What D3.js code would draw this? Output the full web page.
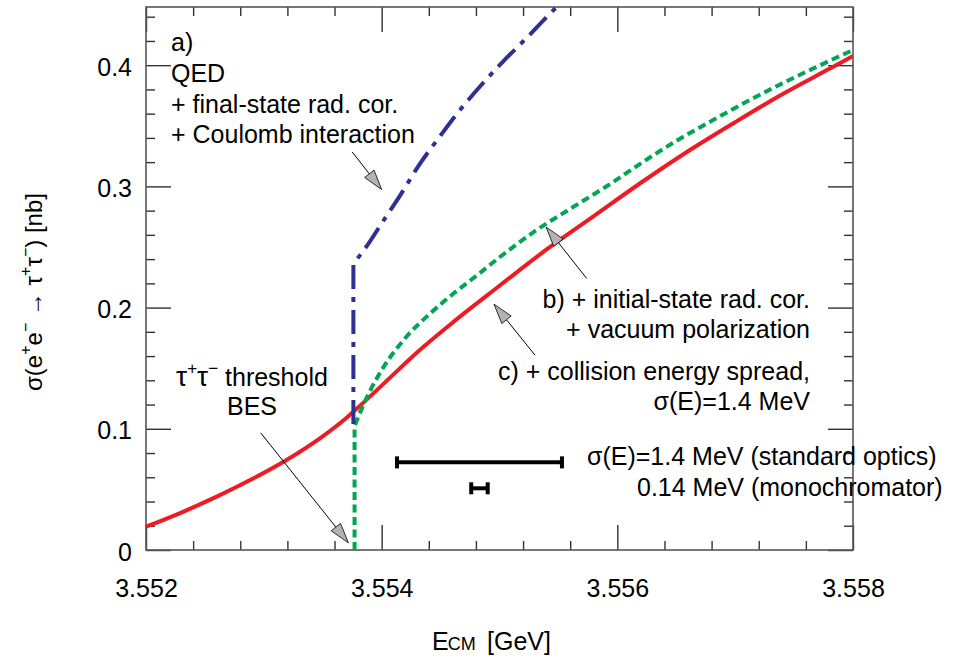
<!DOCTYPE html>
<html>
<head>
<meta charset="utf-8">
<script src="https://cdn.jsdelivr.net/npm/d3@7"></script>
<style>
  html, body { margin: 0; padding: 0; background: #fff; }
  svg { display: block; font-family: "Liberation Sans", Arial, Helvetica, sans-serif; }
</style>
</head>
<body>
<svg id="chart" width="953" height="659"></svg>
<script>
// ---------------- data ----------------
const xMajorTicks = [3.552, 3.554, 3.556, 3.558];
const xTickLabels = ["3.552", "3.554", "3.556", "3.558"];
const yMajorTicks = [0, 0.1, 0.2, 0.3, 0.4];
const yTickLabels = ["0", "0.1", "0.2", "0.3", "0.4"];

// a) QED + final-state rad. cor. + Coulomb interaction (blue dash-dot)
const blueE     = [3.55376, 3.55376, 3.55390, 3.55401, 3.55416, 3.55431, 3.55450, 3.55464, 3.55484, 3.55503, 3.55523, 3.55547, 3.55560];
const blueSigma = [0.104,   0.236,   0.2545,  0.271,   0.293,   0.3165,  0.342,   0.360,   0.383,   0.403,   0.4225,  0.4465,  0.458];

// b) + initial-state rad. cor. + vacuum polarization (green dashed)
const greenE     = [3.55377, 3.55377, 3.55379, 3.55387, 3.55390, 3.55401, 3.55421, 3.55441, 3.55461, 3.55481, 3.5550, 3.5553, 3.5556, 3.5559, 3.5562, 3.5565, 3.5568, 3.5571, 3.5574, 3.5577, 3.5580];
const greenSigma = [0,       0.102,   0.107,   0.125,   0.131,   0.150,   0.1759,  0.195,   0.2116,  0.2267,  0.2415, 0.2630, 0.2815, 0.2995, 0.3190, 0.3375, 0.3540, 0.3700, 0.3850, 0.3990, 0.4125];

// c) + collision energy spread, sigma(E)=1.4 MeV (red solid)
const redE     = [3.5520, 3.5523, 3.5526, 3.5529, 3.5532, 3.5535, 3.5537, 3.5538, 3.5540, 3.5543, 3.5546, 3.5550, 3.5554, 3.5558, 3.5562, 3.5566, 3.5570, 3.5574, 3.5578, 3.5580];
const redSigma = [0.0192, 0.0309, 0.0440, 0.0585, 0.0747, 0.0938, 0.1089, 0.1176, 0.1356, 0.1630, 0.1875, 0.2180, 0.2480, 0.2755, 0.3030, 0.3290, 0.3530, 0.3760, 0.3970, 0.4075];

// energy-spread bars
const spreadCenter = [3.55483, 3.55483];
const spreadHalf   = [0.0007, 0.00007];
const spreadLevel  = [0.0723, 0.0509];

// ---------------- layout ----------------
const svg = d3.select("#chart");
const L = 146, R = 853, T = 7, B = 550;
const FONT = 25;
const x = d3.scaleLinear().domain([3.552, 3.558]).range([L, R]);
const y = d3.scaleLinear().domain([0, 0.448]).range([B, T]);

const xMinor = d3.range(0, 16).map(i => 3.552 + i * 0.0004).filter(v => !xMajorTicks.some(m => Math.abs(m - v) < 1e-9));
const yMinor = d3.range(0, 23).map(i => i * 0.02).filter(v => v <= 0.448 && !yMajorTicks.some(m => Math.abs(m - v) < 1e-9));

const tickColor = "#333";
function styleAxis(g) {
  g.select(".domain").remove();
  g.selectAll(".tick line").attr("stroke", tickColor).attr("stroke-width", 1.4);
  g.selectAll("text").attr("font-size", FONT).attr("fill", "#000")
    .attr("font-family", '"Liberation Sans", Arial, Helvetica, sans-serif');
}

// left axis
svg.append("g").attr("transform", `translate(${L},0)`)
  .call(d3.axisLeft(y).tickValues(yMajorTicks).tickSizeInner(-25).tickSizeOuter(0).tickPadding(14)
    .tickFormat((d, i) => yTickLabels[i]))
  .call(styleAxis)
  .call(g => g.selectAll("text").attr("dy", "0.4em"));
svg.append("g").attr("transform", `translate(${L},0)`)
  .call(d3.axisLeft(y).tickValues(yMinor).tickSizeInner(-9).tickSizeOuter(0).tickFormat(""))
  .call(styleAxis);
// right axis
svg.append("g").attr("transform", `translate(${R},0)`)
  .call(d3.axisRight(y).tickValues(yMajorTicks).tickSizeInner(-25).tickSizeOuter(0).tickFormat(""))
  .call(styleAxis);
svg.append("g").attr("transform", `translate(${R},0)`)
  .call(d3.axisRight(y).tickValues(yMinor).tickSizeInner(-9).tickSizeOuter(0).tickFormat(""))
  .call(styleAxis);
// bottom axis
svg.append("g").attr("transform", `translate(0,${B})`)
  .call(d3.axisBottom(x).tickValues(xMajorTicks).tickSizeInner(-25).tickSizeOuter(0).tickPadding(29)
    .tickFormat((d, i) => xTickLabels[i]))
  .call(styleAxis);
svg.append("g").attr("transform", `translate(0,${B})`)
  .call(d3.axisBottom(x).tickValues(xMinor).tickSizeInner(-9).tickSizeOuter(0).tickFormat(""))
  .call(styleAxis);
// top axis
svg.append("g").attr("transform", `translate(0,${T})`)
  .call(d3.axisTop(x).tickValues(xMajorTicks).tickSizeInner(-25).tickSizeOuter(0).tickFormat(""))
  .call(styleAxis);
svg.append("g").attr("transform", `translate(0,${T})`)
  .call(d3.axisTop(x).tickValues(xMinor).tickSizeInner(-9).tickSizeOuter(0).tickFormat(""))
  .call(styleAxis);

// frame
svg.append("rect").attr("x", L).attr("y", T).attr("width", R - L).attr("height", B - T)
  .attr("fill", "none").attr("stroke", "#555").attr("stroke-width", 1.6);

// clip
svg.append("clipPath").attr("id", "plotclip").append("rect")
  .attr("x", L).attr("y", T).attr("width", R - L).attr("height", B - T);
const plot = svg.append("g").attr("clip-path", "url(#plotclip)");

// curves
const zip = (a, b) => a.map((v, i) => [v, b[i]]);
const lin = d3.line().x(d => x(d[0])).y(d => y(d[1]));
const mono = d3.line().x(d => x(d[0])).y(d => y(d[1])).curve(d3.curveMonotoneX);
function withVertical(pts) {
  const first = lin(pts.slice(0, 2));
  const rest = mono(pts.slice(1)).replace(/^M/, "L");
  return first + rest;
}

plot.append("path").attr("d", mono(zip(redE, redSigma)))
  .attr("fill", "none").attr("stroke", "#ed1c24").attr("stroke-width", 4);
plot.append("path").attr("d", withVertical(zip(greenE, greenSigma)))
  .attr("fill", "none").attr("stroke", "#00a651").attr("stroke-width", 4)
  .attr("stroke-dasharray", "8,4.5");
plot.append("path").attr("d", withVertical(zip(blueE, blueSigma)))
  .attr("fill", "none").attr("stroke", "#2e3192").attr("stroke-width", 4)
  .attr("stroke-dasharray", "24,8,5,8");

// spread bars
spreadCenter.forEach((c, i) => {
  const x0 = x(c - spreadHalf[i]), x1 = x(c + spreadHalf[i]), yy = y(spreadLevel[i]);
  const g = svg.append("g").attr("stroke", "#000").attr("stroke-width", 4);
  g.append("line").attr("x1", x0).attr("x2", x1).attr("y1", yy).attr("y2", yy);
  g.append("line").attr("x1", x0).attr("x2", x0).attr("y1", yy - 6).attr("y2", yy + 6);
  g.append("line").attr("x1", x1).attr("x2", x1).attr("y1", yy - 6).attr("y2", yy + 6);
});

// arrows (tail -> tip, data coords)
const arrows = [
  { tail: [3.553750, 0.3284], tip: [3.554000, 0.2974] },
  { tail: [3.552973, 0.0967], tip: [3.553717, 0.0060] },
  { tail: [3.555740, 0.2240], tip: [3.555395, 0.2665] },
  { tail: [3.555301, 0.1608], tip: [3.554953, 0.2028] }
];
arrows.forEach(a => {
  const tx = x(a.tail[0]), ty = y(a.tail[1]), px = x(a.tip[0]), py = y(a.tip[1]);
  const dx = px - tx, dy = py - ty, len = Math.hypot(dx, dy);
  const ux = dx / len, uy = dy / len, nx = -uy, ny = ux;
  const hl = 20, hw = 6;
  const bx = px - hl * ux, by = py - hl * uy;
  svg.append("line").attr("x1", tx).attr("y1", ty).attr("x2", bx).attr("y2", by)
    .attr("stroke", "#000").attr("stroke-width", 1);
  svg.append("polygon")
    .attr("points", [[px, py], [bx + hw * nx, by + hw * ny], [bx - hw * nx, by - hw * ny]].map(p => p.join(",")).join(" "))
    .attr("fill", "#b3b3b3").attr("stroke", "#000").attr("stroke-width", 0.8);
});

// texts
function txt(xp, yp, s, anchor) {
  return svg.append("text").attr("x", xp).attr("y", yp).attr("font-size", FONT)
    .attr("text-anchor", anchor || "start").attr("fill", "#000").text(s);
}
txt(171, 51, "a)");
txt(171, 81.5, "QED");
txt(171, 112.5, "+ final-state rad. cor.");
txt(171, 143, "+ Coulomb interaction");

txt(810, 308, "b) + initial-state rad. cor.", "end");
txt(810, 338, "+ vacuum polarization", "end");
txt(810, 380, "c) + collision energy spread,", "end");
txt(810, 410, "σ(E)=1.4 MeV", "end");

txt(587, 465, "σ(E)=1.4 MeV (standard optics)");
txt(637, 496, "0.14 MeV (monochromator)");

// tau threshold label
const th = svg.append("text").attr("x", 252).attr("y", 386).attr("font-size", FONT).attr("text-anchor", "middle");
th.append("tspan").attr("font-size", 28).text("τ");
th.append("tspan").attr("font-size", 17).attr("dx", 0).attr("dy", -12).text("+");
th.append("tspan").attr("font-size", 28).attr("dx", 0).attr("dy", 12).text("τ");
th.append("tspan").attr("font-size", 17).attr("dx", 0).attr("dy", -12).text("−");
th.append("tspan").attr("dx", 0).attr("dy", 12).text(" threshold");
txt(252, 415, "BES", "middle");

// x title
const xt = svg.append("text").attr("x", 432).attr("y", 650).attr("font-size", FONT);
xt.append("tspan").text("E");
xt.append("tspan").attr("font-size", 18).attr("dx", -1).text("CM");
xt.append("tspan").attr("x", 487).text("[GeV]");

// y title
const yt = svg.append("text").attr("transform", "translate(42,292) rotate(-90)")
  .attr("font-size", 24).attr("text-anchor", "middle");
yt.append("tspan").text("σ(e");
yt.append("tspan").attr("font-size", 16).attr("dy", -11).text("+");
yt.append("tspan").attr("dy", 11).text("e");
yt.append("tspan").attr("font-size", 16).attr("dy", -11).text("−");
yt.append("tspan").attr("dy", 11).text(" → τ");
yt.append("tspan").attr("font-size", 16).attr("dy", -11).text("+");
yt.append("tspan").attr("dy", 11).text("τ");
yt.append("tspan").attr("font-size", 16).attr("dy", -11).text("−");
yt.append("tspan").attr("dy", 11).text(")  [nb]");
</script>
</body>
</html>
